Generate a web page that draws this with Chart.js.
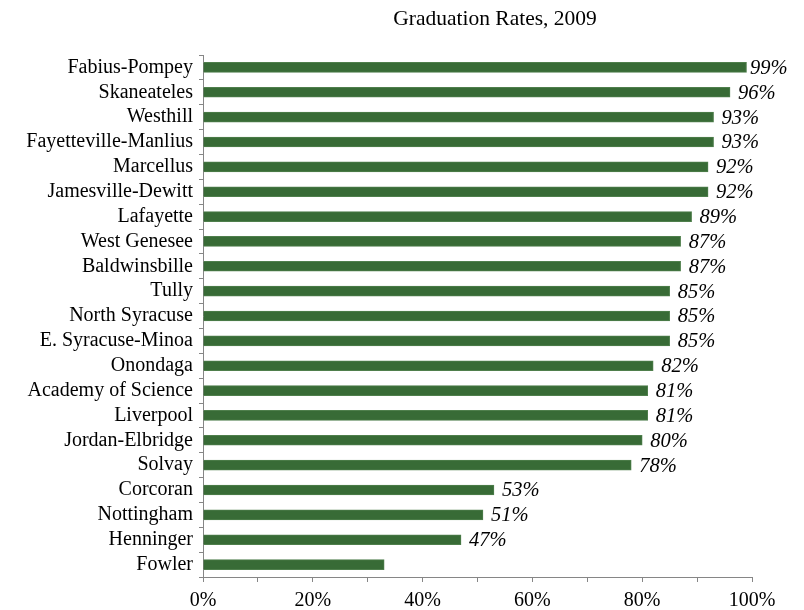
<!DOCTYPE html>
<html>
<head>
<meta charset="utf-8">
<script src="https://cdn.jsdelivr.net/npm/chart.js@4"></script>
<style>
html,body{margin:0;padding:0;background:#fff;}
#wrap{width:804px;height:610px;position:relative;}
</style>
</head>
<body>
<div id="wrap"><canvas id="c" width="804" height="610"></canvas></div>
<script>
const titleText = 'Graduation Rates, 2009';
const districts = ['Fabius-Pompey','Skaneateles','Westhill','Fayetteville-Manlius','Marcellus','Jamesville-Dewitt','Lafayette','West Genesee','Baldwinsbille','Tully','North Syracuse','E. Syracuse-Minoa','Onondaga','Academy of Science','Liverpool','Jordan-Elbridge','Solvay','Corcoran','Nottingham','Henninger','Fowler'];
const rates = [99,96,93,93,92,92,89,87,87,85,85,85,82,81,81,80,78,53,51,47,33];
const valueLabels = ['99%','96%','93%','93%','92%','92%','89%','87%','87%','85%','85%','85%','82%','81%','81%','80%','78%','53%','51%','47%',''];
const xTickValues = [0,20,40,60,80,100];

const SERIF = "'Liberation Serif','DejaVu Serif',serif";

const titlePlugin = {
  id: 'titleText',
  afterDraw(chart) {
    const ctx = chart.ctx;
    ctx.save();
    ctx.font = '21.5px ' + SERIF;
    ctx.fillStyle = '#000';
    ctx.textAlign = 'center';
    ctx.textBaseline = 'middle';
    ctx.fillText(titleText, 495, 19);
    ctx.restore();
  }
};

const valueLabelPlugin = {
  id: 'valueLabels',
  afterDatasetsDraw(chart) {
    const ctx = chart.ctx;
    const meta = chart.getDatasetMeta(0);
    const area = chart.chartArea;
    ctx.save();
    ctx.font = 'italic 20.5px ' + SERIF;
    ctx.fillStyle = '#000';
    ctx.textAlign = 'left';
    ctx.textBaseline = 'middle';
    meta.data.forEach((bar, i) => {
      const t = valueLabels[i];
      if (t) ctx.fillText(t, Math.min(bar.x + 8, area.right - 2), bar.y + 1);
    });
    ctx.restore();
  }
};

new Chart(document.getElementById('c'), {
  type: 'bar',
  data: {
    labels: districts,
    datasets: [{
      data: rates,
      backgroundColor: '#386b36',
      borderColor: '#4f7f4c',
      borderWidth: 1,
      barThickness: 10
    }]
  },
  options: {
    indexAxis: 'y',
    responsive: false,
    animation: false,
    layout: { padding: { top: 55, right: 52, left: 0, bottom: 0 } },
    plugins: { legend: { display: false }, tooltip: { enabled: false }, title: { display: false } },
    scales: {
      x: {
        min: 0, max: 100,
        afterFit(scale) { scale.height = 33; },
        border: { color: '#868686', width: 1 },
        grid: { drawOnChartArea: false, color: '#868686', tickLength: 5 },
        ticks: {
          stepSize: 10,
          autoSkip: false,
          maxRotation: 0,
          padding: 7,
          color: '#000',
          font: { family: SERIF, size: 20 },
          callback: (v) => xTickValues.includes(v) ? v + '%' : ''
        }
      },
      y: {
        afterFit(scale) { scale.width = 203; },
        border: { color: '#868686', width: 1 },
        grid: { drawOnChartArea: false, color: '#868686', tickLength: 4, offset: true },
        ticks: {
          autoSkip: false,
          padding: 6,
          color: '#000',
          font: { family: SERIF, size: 20 }
        }
      }
    }
  },
  plugins: [titlePlugin, valueLabelPlugin]
});
</script>
</body>
</html>
